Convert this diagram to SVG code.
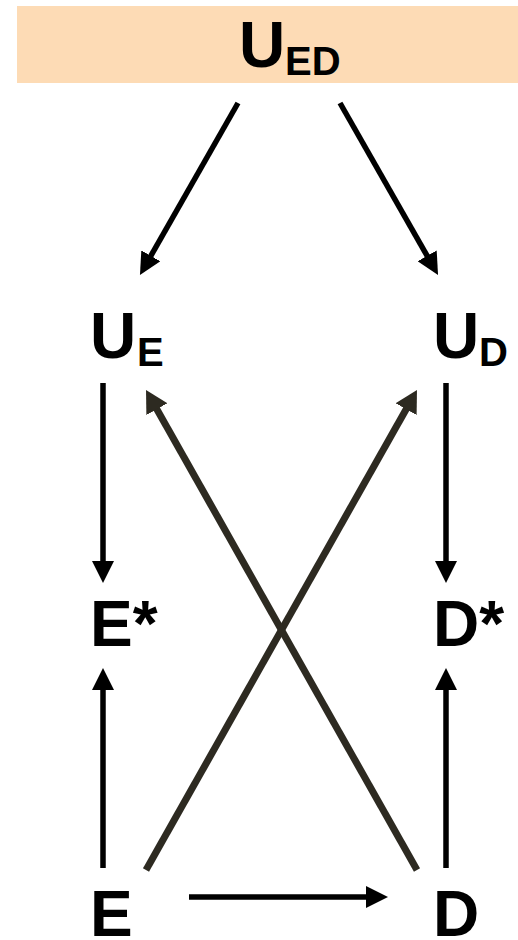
<svg xmlns="http://www.w3.org/2000/svg" width="518" height="940" viewBox="0 0 518 940">
<style>
text{font-family:"Liberation Sans",Arial,sans-serif;font-weight:bold;fill:#000}
.m{font-size:64px}
.s{font-size:40px}
.a{stroke:#000;stroke-width:5.5;fill:none}
.x{stroke:#2d2a21;stroke-width:7;fill:none}
</style>
<defs>
<marker id="ah" markerUnits="userSpaceOnUse" markerWidth="24" markerHeight="22" refX="8" refY="11" orient="auto"><path d="M0,0 L22,11 L0,22 Z" fill="#000"/></marker>
<marker id="ahx" markerUnits="userSpaceOnUse" markerWidth="24" markerHeight="24" refX="8" refY="12" orient="auto"><path d="M0,0 L22,12 L0,24 Z" fill="#2d2a21"/></marker>
</defs>
<g id="UED"><rect x="17" y="6" width="501" height="77" fill="#fddbb5"/><text class="m" x="239" y="67">U</text><text class="s" x="285" y="75">ED</text></g>
<g id="UE"><text class="m" x="90" y="358">U</text><text class="s" x="137" y="366">E</text></g>
<g id="UD"><text class="m" x="433" y="358">U</text><text class="s" x="479" y="366">D</text></g>
<g id="Estar"><text class="m" x="90" y="646">E*</text></g>
<g id="Dstar"><text class="m" x="433" y="646">D*</text></g>
<g id="E"><text class="m" x="90" y="936">E</text></g>
<g id="D"><text class="m" x="433" y="936">D</text></g>
<g id="connectors">
<line class="a" x1="238" y1="103" x2="146.9" y2="262.8" marker-end="url(#ah)"/>
<line class="a" x1="340" y1="103" x2="431.1" y2="262.8" marker-end="url(#ah)"/>
<line class="a" x1="103" y1="383" x2="103" y2="569" marker-end="url(#ah)"/>
<line class="a" x1="446" y1="383" x2="446" y2="569" marker-end="url(#ah)"/>
<line class="a" x1="103" y1="868" x2="103" y2="682" marker-end="url(#ah)"/>
<line class="a" x1="446" y1="868" x2="446" y2="682" marker-end="url(#ah)"/>
<line class="a" x1="189" y1="897" x2="374" y2="897" marker-end="url(#ah)"/>
<line class="x" x1="146" y1="870" x2="410.1" y2="402.2" marker-end="url(#ahx)"/>
<line class="x" x1="417" y1="870" x2="152.9" y2="402.2" marker-end="url(#ahx)"/>
</g>
</svg>
